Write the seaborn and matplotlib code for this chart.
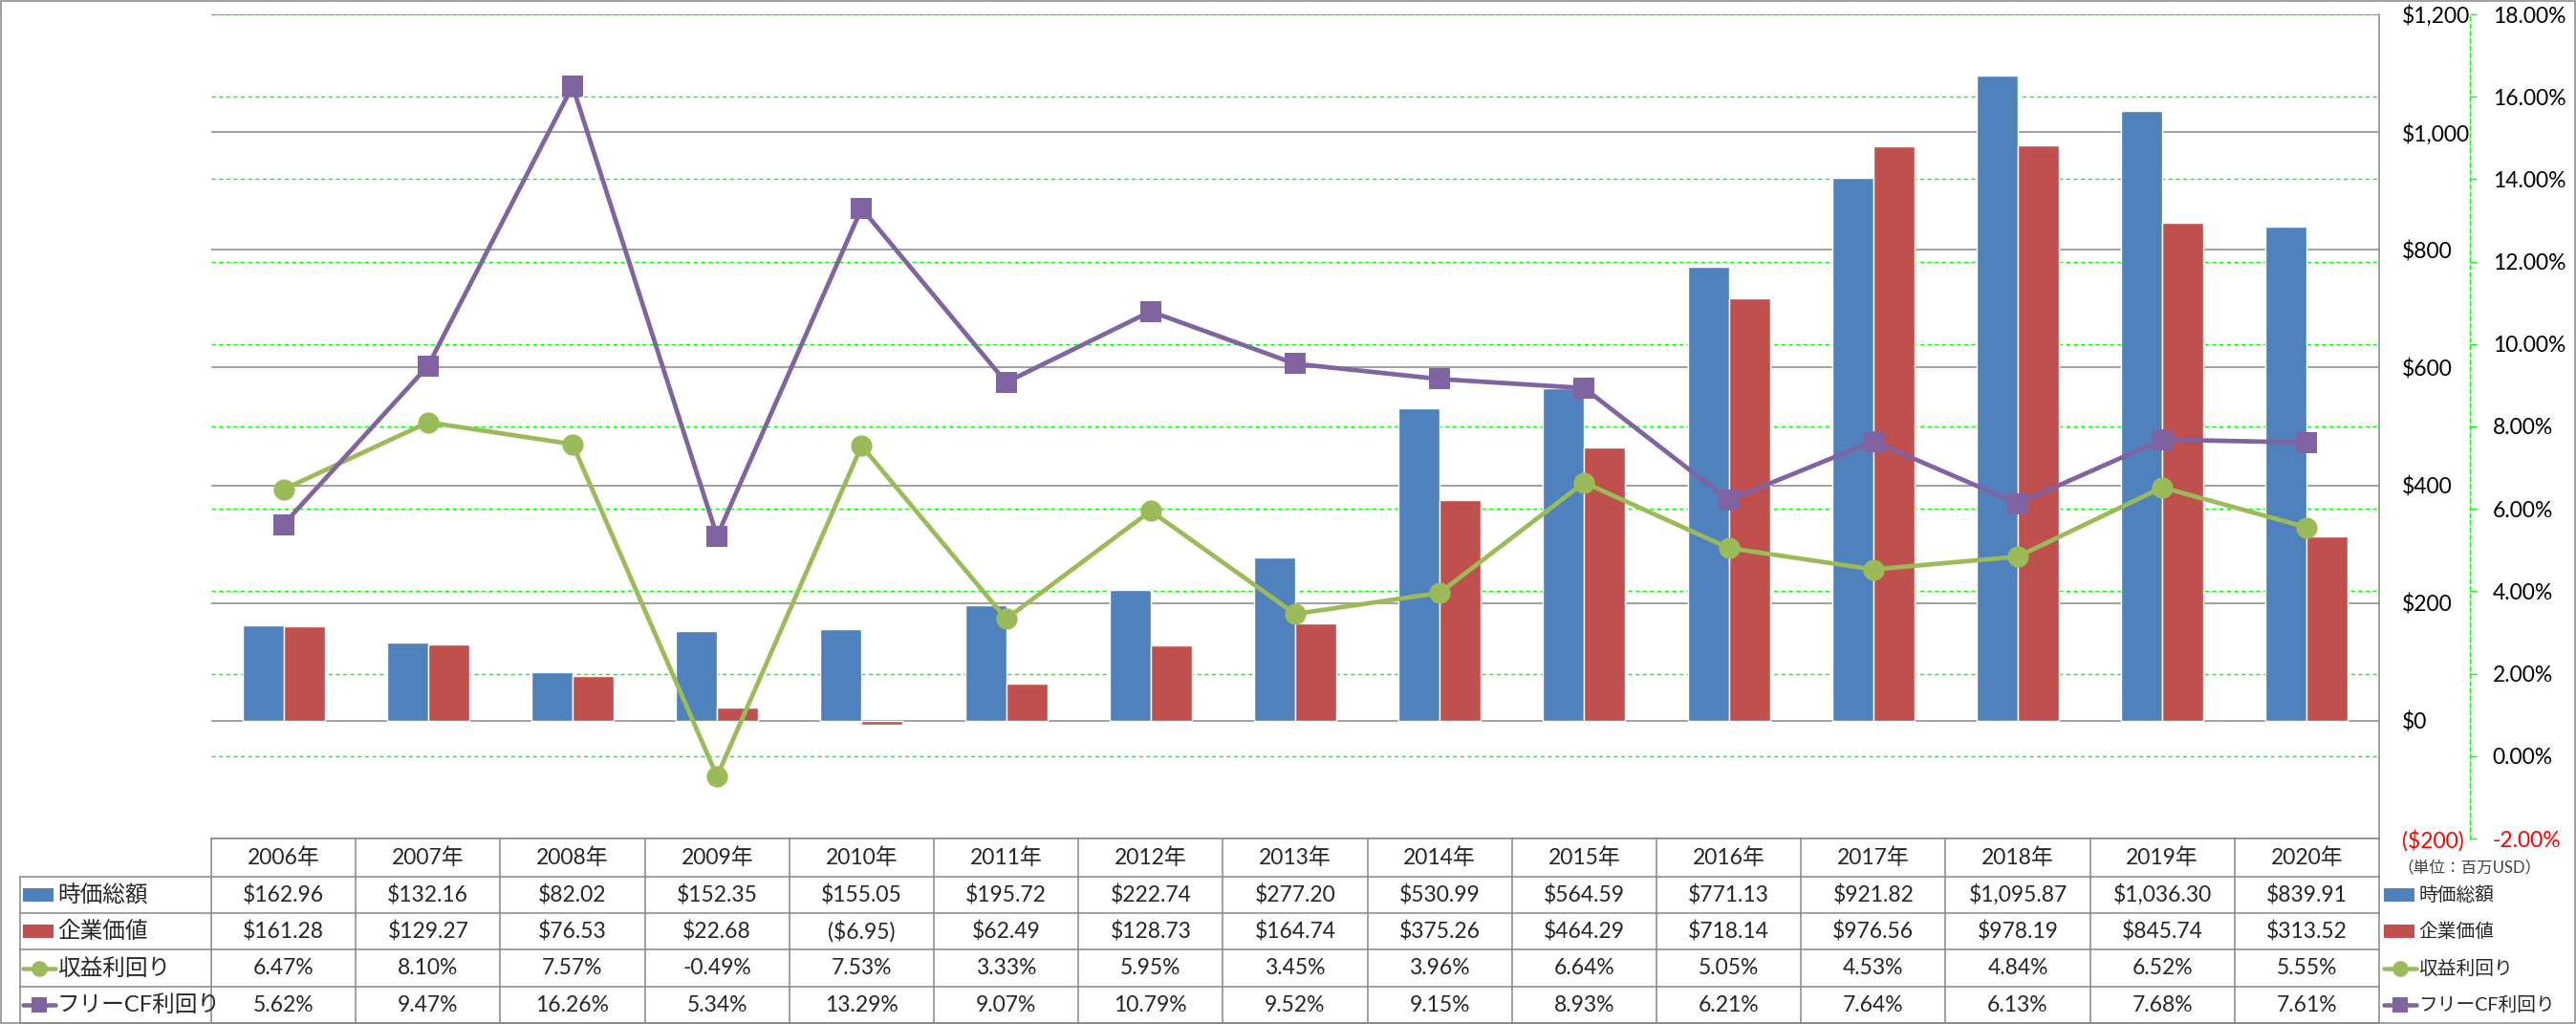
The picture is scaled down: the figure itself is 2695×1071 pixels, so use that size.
#%% Libraries
import numpy as np
import pandas as pd
import seaborn as sns
import matplotlib.pyplot as plt
from matplotlib.patches import Rectangle
from matplotlib.lines import Line2D

#%% Data (単位: 百万USD / %)
years = ['2006年', '2007年', '2008年', '2009年', '2010年', '2011年', '2012年', '2013年',
         '2014年', '2015年', '2016年', '2017年', '2018年', '2019年', '2020年']
market_cap = [162.96, 132.16, 82.02, 152.35, 155.05, 195.72, 222.74, 277.20,
              530.99, 564.59, 771.13, 921.82, 1095.87, 1036.30, 839.91]
enterprise_value = [161.28, 129.27, 76.53, 22.68, -6.95, 62.49, 128.73, 164.74,
                    375.26, 464.29, 718.14, 976.56, 978.19, 845.74, 313.52]
earnings_yield = [6.47, 8.10, 7.57, -0.49, 7.53, 3.33, 5.95, 3.45,
                  3.96, 6.64, 5.05, 4.53, 4.84, 6.52, 5.55]
fcf_yield = [5.62, 9.47, 16.26, 5.34, 13.29, 9.07, 10.79, 9.52,
             9.15, 8.93, 6.21, 7.64, 6.13, 7.68, 7.61]

bar_names = ['時価総額', '企業価値']
line_names = ['収益利回り', 'フリーCF利回り']
usd_ticks = list(range(-200, 1201, 200))
pct_ticks = list(range(-2, 19, 2))

BLUE, RED, GREEN, PURPLE = '#4F81BD', '#C0504D', '#9BBB59', '#8064A2'
GRAY, LIME = '#868686', '#00FF00'

#%% Long-form frames for seaborn
bar_df = pd.DataFrame({'year': years * 2,
                       'value': market_cap + enterprise_value,
                       'series': [bar_names[0]] * len(years) + [bar_names[1]] * len(years)})
pos = list(np.arange(len(years)))
line_df = pd.DataFrame({'pos': pos * 2,
                        'value': earnings_yield + fcf_yield,
                        'series': [line_names[0]] * len(years) + [line_names[1]] * len(years)})

#%% Style
sns.set_theme(style='white')
plt.rcParams['font.family'] = ['Lato', 'Noto Sans CJK JP', 'DejaVu Sans']

W, H, DPI = 2695, 1071, 100
L, R, T, B = 221, 2489, 15, 877
FS = 16.5

def box(l, t, r, b):
    return [l / W, 1 - b / H, (r - l) / W, (b - t) / H]

def usd(v):
    return f'(${-v:,.2f})' if v < 0 else f'${v:,.2f}'

def color_negative_ticks(axis, values):
    for tick, v in zip(axis.get_major_ticks(), values):
        c = 'red' if v < 0 else 'black'
        tick.label1.set_color(c)
        tick.label2.set_color(c)

fig = plt.figure(figsize=(W / DPI, H / DPI), dpi=DPI)
ax = fig.add_axes(box(L, T, R, B))
ax_pct = ax.twinx()
ax_line = ax.twinx()
ax_pct.set_zorder(0)
ax.set_zorder(1)
ax_line.set_zorder(2)
ax.patch.set_visible(False)
ax_line.patch.set_visible(False)

#%% Bars
sns.barplot(data=bar_df, x='year', y='value', hue='series', palette=[BLUE, RED],
            width=0.57, saturation=1, ax=ax, legend=False, errorbar=None)
ax.set_ylim(-200, 1200)
ax.set_yticks(usd_ticks)
ax.set_yticklabels([f'(${-v:,})' if v < 0 else f'${v:,}' for v in usd_ticks])
ax.yaxis.tick_right()
ax.tick_params(axis='y', length=0, pad=17.3, labelsize=FS)
ax.set_axisbelow(True)
ax.yaxis.grid(True, color=GRAY, linewidth=1.1)
ax.xaxis.grid(False)
ax.set_xticks([])
ax.set_xlabel('')
ax.set_ylabel('')
for s in ['left', 'top']:
    ax.spines[s].set_visible(False)
for s in ['right', 'bottom']:
    ax.spines[s].set_color(GRAY)
    ax.spines[s].set_linewidth(1.1)

#%% Percent axis (green dashed grid, behind the bars)
dash = (0, (3, 2.5))
ax_pct.set_ylim(-2, 18)
ax_pct.set_yticks(pct_ticks)
ax_pct.set_yticklabels([f'{v:.2f}%' for v in pct_ticks])
ax_pct.yaxis.grid(True, color=LIME, linestyle=dash, linewidth=1)
ax_pct.tick_params(axis='y', direction='out', length=5, width=1, color=LIME, pad=12, labelsize=FS)
for s in ['left', 'top', 'bottom']:
    ax_pct.spines[s].set_visible(False)
ax_pct.spines['right'].set_position(('outward', 95 * 72 / DPI))
ax_pct.spines['right'].set_color(LIME)
ax_pct.spines['right'].set_linestyle(dash)
ax_pct.spines['right'].set_linewidth(1)

#%% Lines
sns.lineplot(data=line_df, x='pos', y='value', hue='series', style='series',
             palette=[GREEN, PURPLE], markers={line_names[0]: 'o', line_names[1]: 's'},
             dashes=False, linewidth=3.4, markersize=16, markeredgewidth=0,
             ax=ax_line, legend=False)
ax_line.set_ylim(-2, 18)
ax_line.set_axis_off()
ax.set_xlim(-0.5, len(years) - 0.5)

color_negative_ticks(ax.yaxis, usd_ticks)
color_negative_ticks(ax_pct.yaxis, pct_ticks)

#%% Data table + legends
axt = fig.add_axes([0, 0, 1, 1])
axt.set_xlim(0, W)
axt.set_ylim(H, 0)
axt.set_axis_off()
axt.patch.set_visible(False)
axt.set_zorder(3)

colw = (R - L) / len(years)
rows_y = [877, 917, 955, 993, 1032, 1070]
lkw = dict(color=GRAY, linewidth=1.1)
for y in rows_y[1:]:
    axt.plot([21, R], [y, y], **lkw)
for k in range(len(years) + 1):
    axt.plot([L + k * colw] * 2, [rows_y[0], rows_y[-1]], **lkw)
axt.plot([21, 21], [rows_y[1], rows_y[-1]], **lkw)
axt.add_patch(Rectangle((0.75, 0.75), W - 1.5, H - 1.5, fill=False, edgecolor=GRAY, linewidth=1.1))

centers = [(rows_y[i] + rows_y[i + 1]) / 2 for i in range(5)]
table_rows = [[usd(v) for v in market_cap],
              [usd(v) for v in enterprise_value],
              [f'{v:.2f}%' for v in earnings_yield],
              [f'{v:.2f}%' for v in fcf_yield]]
for i, yr in enumerate(years):
    cx = L + (i + 0.5) * colw
    axt.text(cx, centers[0], yr, ha='center', va='center', fontsize=FS)
    for r, row in enumerate(table_rows):
        axt.text(cx, centers[r + 1], row[i], ha='center', va='center', fontsize=FS)

def legend_key(x0, yc, kind, color):
    if kind == 'bar':
        axt.add_patch(Rectangle((x0, yc - 7), 32, 14, color=color, linewidth=0))
    else:
        axt.add_line(Line2D([x0, x0 + 34], [yc, yc], color=color, linewidth=3.25))
        axt.add_line(Line2D([x0 + 17], [yc], color=color, marker='o' if kind == 'o' else 's',
                            markersize=12, markeredgewidth=0))

keys = [('bar', BLUE), ('bar', RED), ('o', GREEN), ('s', PURPLE)]
names = bar_names + line_names
for r, ((kind, color), name) in enumerate(zip(keys, names)):
    yc = centers[r + 1]
    legend_key(24, yc, kind, color)
    axt.text(60, yc, name, ha='left', va='center', fontsize=17)
    legend_key(2494, yc, kind, color)
    axt.text(2530, yc, name, ha='left', va='center', fontsize=14.2)

axt.text(2508, 907, '（単位：百万USD）', ha='left', va='center', fontsize=12, color='#404040')

fig.savefig('out.png', dpi=DPI)
